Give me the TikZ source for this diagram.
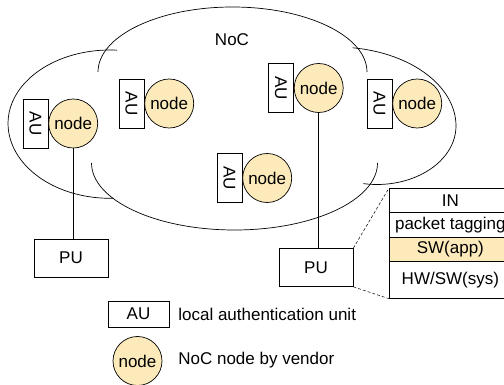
\documentclass[tikz,border=0pt]{standalone}
\usepackage{fontspec}
\setmainfont{Liberation Sans}
\definecolor{nodefill}{RGB}{253,234,187}
\newcommand{\ellarc}[6]{%
  \draw ([shift={(#5:#3pt and #4pt)}]#1,#2) arc[start angle=#5, end angle=#6, x radius=#3pt, y radius=#4pt];}
\begin{document}
\begin{tikzpicture}[x=1pt,y=-1pt, font=\fontsize{17}{20}\selectfont, line width=0.7pt,
  au/.style={draw, rectangle, rotate=-90, minimum width=49pt, minimum height=25pt, inner sep=0pt},
  nd/.style={draw, circle, fill=nodefill, minimum size=49pt, inner sep=0pt},
  pu/.style={draw, rectangle, minimum width=74pt, minimum height=38pt, inner sep=0pt},
  row/.style={draw, rectangle, minimum width=122pt, inner sep=0pt, anchor=north west},
  zoomline/.style={dash pattern=on 3pt off 2pt, line width=0.5pt}]
\clip (0,0) rectangle (504,385);
% cloud outline
\ellarc{110}{123.3}{102}{73.3}{86}{180}
\ellarc{110}{123.3}{102}{75}{180}{272}
\ellarc{232.5}{72}{134.5}{65}{180}{0}
\ellarc{234.5}{163}{143}{67}{180}{360}
\ellarc{336}{126}{120}{79}{82}{0}
\ellarc{377}{126}{79}{58.5}{0}{-100}
\node (noc) at (232,40) {NoC};
% AU + node pairs
\node[au] (a1) at (35.5,123.5) {AU};
\node[nd, anchor=west] (c1) at (a1.north) {node};
\node[au] (a2) at (131.5,103.5) {AU};
\node[nd, anchor=west] (c2) at (a2.north) {node};
\node[au] (a3) at (281,88) {AU};
\node[nd, anchor=west] (c3) at (a3.north) {node};
\node[au] (a4) at (379.5,103.5) {AU};
\node[nd, anchor=west] (c4) at (a4.north) {node};
\node[au] (a5) at (229.5,178) {AU};
\node[nd, anchor=west] (c5) at (a5.north) {node};
% PUs
\node[pu] (pu1) at (71,258) {PU};
\node[pu] (pu2) at (316,267.5) {PU};
\draw (c1.south) -- (c1.south |- pu1.north);
\draw (c3.south) -- (c3.south |- pu2.north);
% detail stack
\node[row, minimum height=24pt] (in) at (389,188) {IN};
\node[row, minimum height=25pt] (pt) at (389,212) {packet tagging};
\node[row, minimum height=24pt, fill=nodefill] (sw) at (389,237) {SW(app)};
\node[row, minimum height=37pt] (hw) at (389,261) {HW/SW(sys)};
\draw[zoomline] (pu2.north east) -- (in.north west);
\draw[zoomline] (pu2.south east) -- (hw.south west);
% legend
\node[draw, rectangle, minimum width=61pt, minimum height=26pt, inner sep=0pt] (lau) at (138.5,314) {AU};
\node[anchor=west, inner sep=0pt] (lautxt) at (178,314) {local authentication unit};
\node[nd] (lnd) at (137.5,361) {node};
\node[anchor=west, inner sep=0pt] (lndtxt) at (178,360) {NoC node by vendor};
\end{tikzpicture}
\end{document}
